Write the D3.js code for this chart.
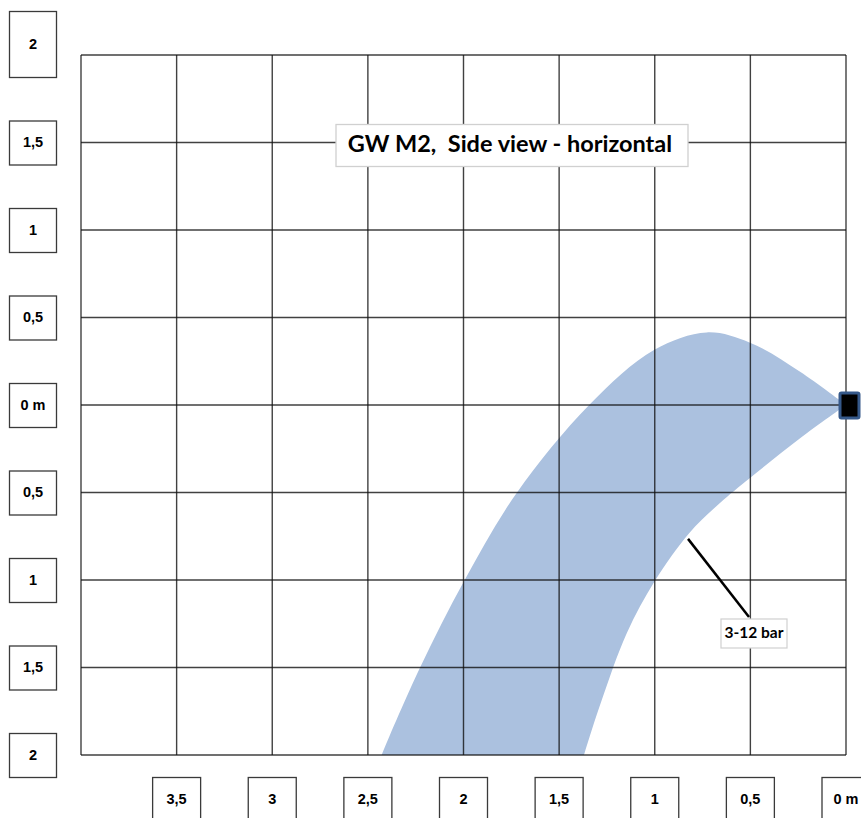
<!DOCTYPE html>
<html>
<head>
<meta charset="utf-8">
<script src="https://cdn.jsdelivr.net/npm/d3@7"></script>
<style>
  body { margin: 0; background: #fff; }
  svg { display: block; }
</style>
</head>
<body>
<svg id="chart" width="861" height="818"></svg>
<script>
// ticks (distance in m, reversed axis) and heights
const xTicks = [3.5, 3, 2.5, 2, 1.5, 1, 0.5, 0];
const xLabels = ["3,5", "3", "2,5", "2", "1,5", "1", "0,5", "0 m"];
const yTicks = [2, 1.5, 1, 0.5, 0, -0.5, -1, -1.5, -2];
const yLabels = ["2", "1,5", "1", "0,5", "0 m", "0,5", "1", "1,5", "2"];

// spray band, upper/outer edge (distance, height)
const outerDist = [0, 0.24, 0.502, 0.728, 1.004, 1.343, 1.722, 1.996, 2.227, 2.428, 2.48];
const outerHeight = [0, 0.19, 0.356, 0.415, 0.314, 0, -0.503, -1.004, -1.5, -2.0, -2.15];
// lower/inner edge
const innerDist = [0, 0.24, 0.502, 0.659, 0.819, 0.999, 1.147, 1.277, 1.37, 1.41];
const innerHeight = [0, -0.19, -0.417, -0.56, -0.731, -1.004, -1.305, -1.686, -2.0, -2.15];

const svg = d3.select("#chart");
const margin = { top: 55, left: 81 };
const width = 765, height = 700;

const x = d3.scaleLinear().domain([4, 0]).range([margin.left, margin.left + width]);
const y = d3.scaleLinear().domain([2, -2]).range([margin.top, margin.top + height]);

svg.append("defs").append("clipPath").attr("id", "plot")
  .append("rect")
  .attr("x", x(4)).attr("y", y(2))
  .attr("width", width).attr("height", height);

// band
const line = d3.line().x(d => x(d[0])).y(d => y(d[1])).curve(d3.curveCatmullRom);
const outer = outerDist.map((d, i) => [d, outerHeight[i]]);
const inner = innerDist.map((d, i) => [d, innerHeight[i]]).reverse();
const bandPath = line(outer) + "L" + line(inner).slice(1) + "Z";

svg.append("path")
  .attr("clip-path", "url(#plot)")
  .attr("d", bandPath)
  .attr("fill", "#abc1df");

// grid
const grid = svg.append("g")
  .attr("stroke", "#111")
  .attr("stroke-opacity", 0.8)
  .attr("stroke-width", 1.4);

grid.selectAll(".vx")
  .data(d3.range(0, 4.01, 0.5))
  .join("line")
  .attr("x1", d => x(d)).attr("x2", d => x(d))
  .attr("y1", y(2)).attr("y2", y(-2));

grid.selectAll(".hy")
  .data(yTicks)
  .join("line")
  .attr("x1", x(4)).attr("x2", x(0))
  .attr("y1", d => y(d)).attr("y2", d => y(d));

// nozzle at origin
svg.append("rect")
  .attr("x", x(0) - 6).attr("y", y(0) - 12)
  .attr("width", 19).attr("height", 25)
  .attr("rx", 1.5)
  .attr("fill", "#000")
  .attr("stroke", "#36598a")
  .attr("stroke-width", 3);

// y tick boxes
const yBox = svg.append("g");
yTicks.forEach((t, i) => {
  const top = i === 0 ? 11 : y(t) - 22;
  const h = i === 0 ? 66 : 44;
  const g = yBox.append("g");
  g.append("rect")
    .attr("x", 9.5).attr("y", top + 0.5)
    .attr("width", 47).attr("height", h)
    .attr("fill", "#fff").attr("stroke", "#3a3a3a").attr("stroke-width", 1.3);
  g.append("text")
    .attr("x", 33).attr("y", top + h / 2 + 1)
    .attr("text-anchor", "middle").attr("dominant-baseline", "middle")
    .attr("font-family", "Liberation Sans, Arial, sans-serif")
    .attr("font-weight", "bold").attr("font-size", 14.5)
    .attr("fill", "#000")
    .text(yLabels[i]);
});

// x tick boxes
const xBox = svg.append("g");
xTicks.forEach((t, i) => {
  const g = xBox.append("g");
  g.append("rect")
    .attr("x", x(t) - 24).attr("y", 777.5)
    .attr("width", 48).attr("height", 44)
    .attr("fill", "#fff").attr("stroke", "#3a3a3a").attr("stroke-width", 1.3);
  g.append("text")
    .attr("x", x(t)).attr("y", 800)
    .attr("text-anchor", "middle").attr("dominant-baseline", "middle")
    .attr("font-family", "Liberation Sans, Arial, sans-serif")
    .attr("font-weight", "bold").attr("font-size", 14.5)
    .attr("fill", "#000")
    .text(xLabels[i]);
});

// title
svg.append("rect")
  .attr("x", 336).attr("y", 124.5)
  .attr("width", 352).attr("height", 42)
  .attr("fill", "#fff").attr("stroke", "#d0d0d0").attr("stroke-width", 1.3);
svg.append("text")
  .attr("x", 510).attr("y", 146)
  .attr("text-anchor", "middle").attr("dominant-baseline", "middle")
  .attr("font-family", "Lato, 'Open Sans', sans-serif")
  .attr("font-weight", "bold").attr("font-size", 23.5)
  .attr("fill", "#000")
  .attr("xml:space", "preserve")
  .text("GW M2,  Side view - horizontal");

// pressure callout
svg.append("line")
  .attr("x1", x(0.826)).attr("y1", y(-0.765))
  .attr("x2", 749).attr("y2", 617)
  .attr("stroke", "#000").attr("stroke-width", 2.5);
svg.append("rect")
  .attr("x", 721).attr("y", 619)
  .attr("width", 66).attr("height", 29)
  .attr("fill", "#fff").attr("stroke", "#d0d0d0").attr("stroke-width", 1.2);
svg.append("text")
  .attr("x", 754).attr("y", 634)
  .attr("text-anchor", "middle").attr("dominant-baseline", "middle")
  .attr("font-family", "Lato, 'Open Sans', sans-serif")
  .attr("font-weight", "bold").attr("font-size", 15.5)
  .attr("fill", "#000")
  .text("3-12 bar");
</script>
</body>
</html>
